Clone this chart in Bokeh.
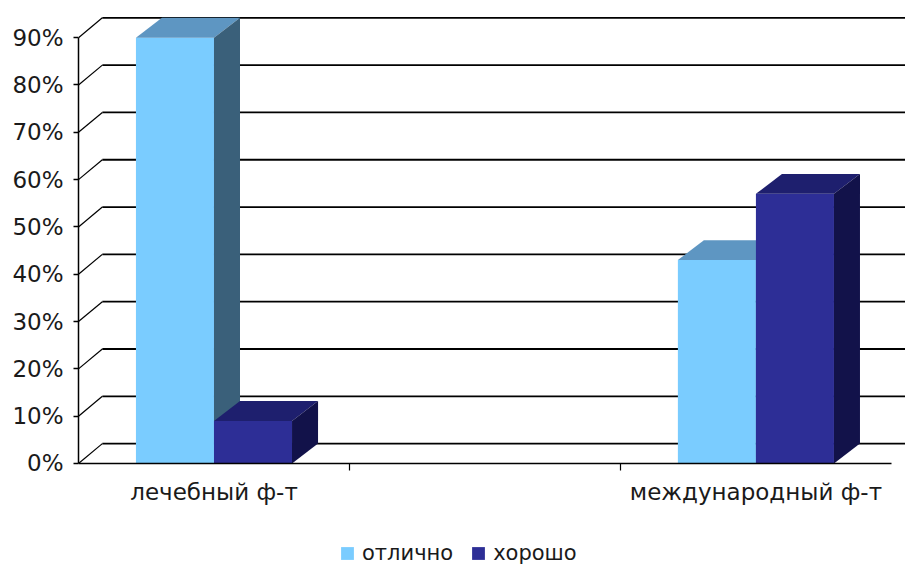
from bokeh.plotting import figure
from bokeh.models import (Range1d, FixedTicker, NumeralTickFormatter, Legend,
                          LegendItem, ColumnDataSource)
from bokeh.embed import file_html
from bokeh.resources import INLINE

# ---------------- data ----------------
categories = ["лечебный ф-т", "", "международный ф-т"]
series_names = ["отлично", "хорошо"]
otlichno = [0.90, None, 0.43]
khorosho = [0.09, None, 0.57]
y_ticks = [0.0, 0.1, 0.2, 0.3, 0.4, 0.5, 0.6, 0.7, 0.8, 0.9]

# ---------------- style ----------------
front_colors = ["#7ACCFF", "#2D2E96"]
top_colors = ["#5E96C2", "#1E1F6E"]
side_colors = ["#3A607A", "#12124A"]
FONT = "DejaVu Sans"
TEXT_COLOR = "#1a1a1a"

n_cat = len(categories)
x_end = 3.052
y_start = -0.2156
y_end = 0.968
bar_w = 0.288
bar_dx, bar_dy = 0.096, 0.042    # depth offsets of bars (data units)
wall_dx, wall_dy = 0.088, 0.042  # depth offsets of walls (data units)

p = figure(frame_width=827, frame_height=560, output_backend="svg",
           toolbar_location=None,
           x_range=Range1d(0, x_end), y_range=Range1d(y_start, y_end),
           min_border_left=78, min_border_right=0, min_border_top=5,
           min_border_bottom=0)
p.outline_line_color = None
p.grid.visible = False
p.background_fill_color = "white"

# ---------------- walls / gridlines ----------------
diag_x0, diag_y0, diag_x1, diag_y1 = [], [], [], []
for t in y_ticks:
    diag_x0.append(0)
    diag_y0.append(t)
    diag_x1.append(wall_dx)
    diag_y1.append(t + wall_dy)
p.segment(x0=diag_x0, y0=diag_y0, x1=diag_x1, y1=diag_y1,
          line_color="black", line_width=1.2)
p.segment(x0=[wall_dx] * len(y_ticks), y0=[t + wall_dy for t in y_ticks],
          x1=[x_end] * len(y_ticks), y1=[t + wall_dy for t in y_ticks],
          line_color="black", line_width=1.8)

# ---------------- 3D bars ----------------
series_vals = [otlichno, khorosho]
legend_items = []
for s, vals in enumerate(series_vals):
    lefts, rights, tops = [], [], []
    for i, v in enumerate(vals):
        if v is None:
            continue
        c = i + 0.5
        left = c - bar_w + s * bar_w
        lefts.append(left)
        rights.append(left + bar_w)
        tops.append(v)
    src = ColumnDataSource(dict(left=lefts, right=rights, top=tops,
                                bottom=[0] * len(tops)))
    r = p.quad(left="left", right="right", bottom="bottom", top="top",
               source=src, fill_color=front_colors[s], line_color=None)
    legend_items.append(LegendItem(label=series_names[s], renderers=[r]))
    top_xs, top_ys, side_xs, side_ys = [], [], [], []
    for l, rr, t in zip(lefts, rights, tops):
        top_xs.append([l, l + bar_dx, rr + bar_dx, rr])
        top_ys.append([t, t + bar_dy, t + bar_dy, t])
        side_xs.append([rr, rr + bar_dx, rr + bar_dx, rr])
        side_ys.append([0, bar_dy, t + bar_dy, t])
    p.patches(xs=top_xs, ys=top_ys, fill_color=top_colors[s], line_color=None)
    p.patches(xs=side_xs, ys=side_ys, fill_color=side_colors[s], line_color=None)

# ---------------- axes ----------------
ya = p.yaxis[0]
ya.ticker = FixedTicker(ticks=y_ticks)
ya.formatter = NumeralTickFormatter(format="0%")
ya.bounds = (0, 0.9)
ya.major_tick_out = 5
ya.major_tick_in = 0
ya.minor_tick_out = 0
ya.minor_tick_in = 0
ya.axis_line_width = 1.5
ya.major_tick_line_width = 1.5
ya.major_label_standoff = 10
ya.major_label_text_font = FONT
ya.major_label_text_font_size = "23px"
ya.major_label_text_color = TEXT_COLOR

xa = p.xaxis[0]
centers = [i + 0.5 for i in range(n_cat)]
xa.ticker = FixedTicker(ticks=centers, minor_ticks=[float(i) for i in range(1, n_cat)])
xa.major_label_overrides = {c: lab for c, lab in zip(centers, categories)}
xa.fixed_location = 0
xa.bounds = (0, n_cat)
xa.major_tick_out = 0
xa.major_tick_in = 0
xa.minor_tick_out = 7
xa.minor_tick_in = 0
xa.axis_line_width = 1.5
xa.minor_tick_line_width = 1.2
xa.major_label_standoff = 9
xa.major_label_text_font = FONT
xa.major_label_text_font_size = "23px"
xa.major_label_text_color = TEXT_COLOR

# ---------------- legend ----------------
legend = Legend(items=legend_items, orientation="horizontal",
                location=(261, 0),
                border_line_color=None, background_fill_alpha=0,
                glyph_width=16, glyph_height=16, label_standoff=7, spacing=17,
                padding=0, margin=0,
                label_text_font=FONT, label_text_font_size="21px",
                label_text_color=TEXT_COLOR)
p.add_layout(legend, "center")

open("out.html", "w").write(file_html(p, INLINE))
